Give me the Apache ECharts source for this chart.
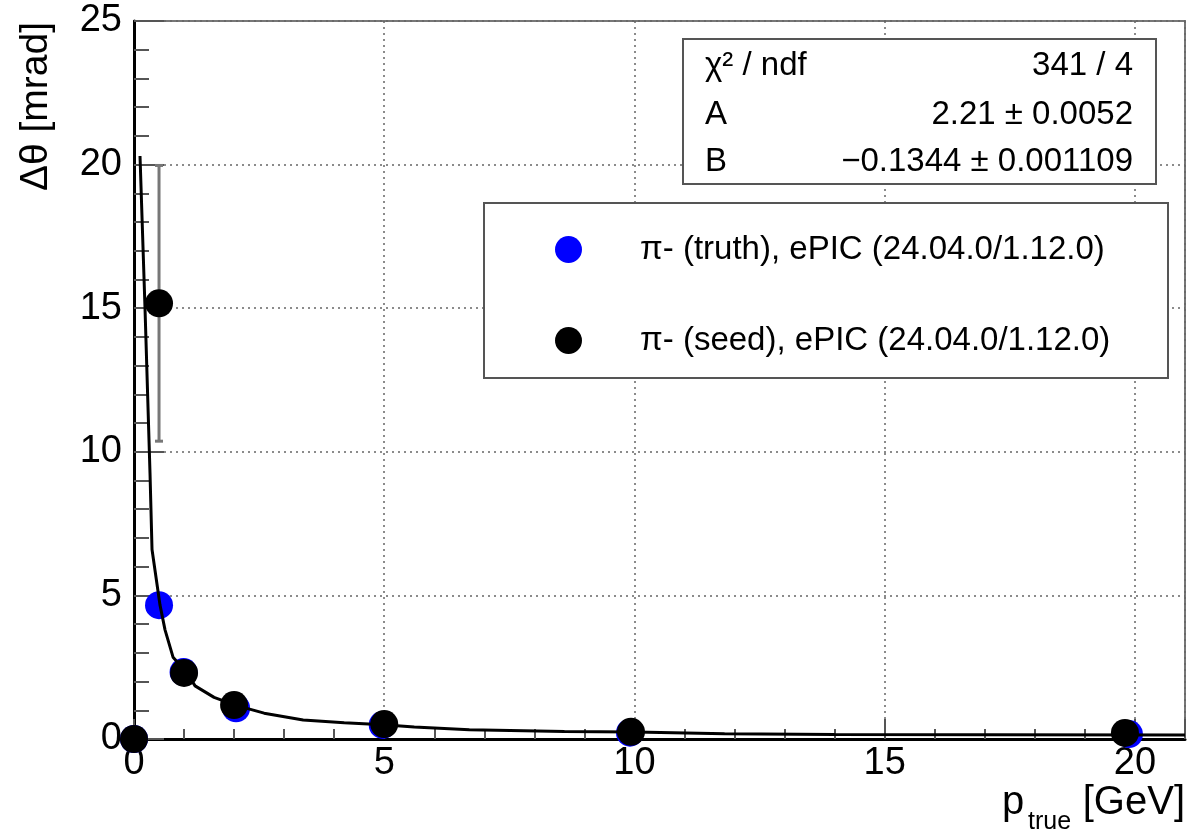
<!DOCTYPE html>
<html>
<head>
<meta charset="utf-8">
<script src="https://cdn.jsdelivr.net/npm/echarts@6/dist/echarts.min.js"></script>
<style>
html,body{margin:0;padding:0;background:#fff;}
#chart{width:1189px;height:831px;}
</style>
</head>
<body>
<div id="chart"></div>
<script>
// ---- data ----
const seedName = 'π- (seed), ePIC (24.04.0/1.12.0)';
const truthName = 'π- (truth), ePIC (24.04.0/1.12.0)';
const seedX = [0, 0.5, 1, 2, 5, 9.93, 19.8];
const seedY = [0, 15.17, 2.3, 1.18, 0.52, 0.25, 0.21];
const seedErr = [0.02, 4.8, 0.06, 0.03, 0.02, 0.01, 0.01];
const truthX = [0, 0.5, 0.99, 2.04, 4.97, 9.91, 19.88];
const truthY = [0, 4.66, 2.33, 1.07, 0.49, 0.22, 0.17];
const fitX = [0.12, 0.22, 0.32, 0.36, 0.52, 0.62, 0.78, 1.06, 1.22, 1.6, 2.02, 2.6, 3.38, 4.2, 4.98, 5.6, 6.7, 8.6, 10, 11.8, 14, 17, 21];
const fitY = [20.3, 15.0, 9.25, 6.6, 4.66, 3.8, 2.85, 2.3, 1.85, 1.45, 1.18, 0.9, 0.66, 0.57, 0.5, 0.42, 0.32, 0.26, 0.24, 0.18, 0.16, 0.15, 0.14];
const statsLabels = ['χ² / ndf', 'A', 'B'];
const statsValues = ['341 / 4', '2.21 ± 0.0052', '−0.1344 ± 0.001109'];
const xTitle = ['p', 'true', '[GeV]'];
const yTitle = 'Δθ [mrad]';

const FONT = "'Liberation Sans', Arial, Helvetica, sans-serif";
const chart = echarts.init(document.getElementById('chart'));

const zip = (a, b) => a.map((v, i) => [v, b[i]]);
const errData = seedX.map((x, i) => [x, seedY[i] - seedErr[i], seedY[i] + seedErr[i]]);

const gridStyle = { color: '#666', width: 1.5, type: [2, 4] };
const tickStyle = { color: '#555', width: 2 };

const statsGraphics = [];
statsLabels.forEach((t, i) => {
  const cy = [66, 115, 162][i];
  statsGraphics.push({ type: 'text', x: 705, y: cy, z: 6,
    style: { text: t, font: '33px ' + FONT, fill: '#000', textAlign: 'left', textVerticalAlign: 'middle' } });
  statsGraphics.push({ type: 'text', x: 1133, y: cy, z: 6,
    style: { text: statsValues[i], font: '33px ' + FONT, fill: '#000', textAlign: 'right', textVerticalAlign: 'middle' } });
});

chart.setOption({
  animation: false,
  backgroundColor: '#fff',
  grid: { left: 134, right: 4, top: 21, bottom: 92, show: true, borderColor: '#777', borderWidth: 2, backgroundColor: 'transparent' },
  xAxis: [
    { type: 'value', min: 0, max: 21, interval: 1, position: 'bottom',
      axisLine: { show: true, onZero: false, lineStyle: { color: '#000', width: 3 } },
      axisTick: { show: true, inside: true, length: 10, lineStyle: tickStyle },
      axisLabel: { show: true, margin: 6, fontSize: 38, fontFamily: FONT, color: '#000',
        showMaxLabel: false, formatter: v => (Math.abs(v % 5) < 1e-9 ? String(v) : '') },
      splitLine: { show: false } },
    { type: 'value', min: 0, max: 21, interval: 5, position: 'bottom',
      axisLine: { show: false },
      axisTick: { show: true, inside: true, length: 20, lineStyle: tickStyle },
      axisLabel: { show: false },
      splitLine: { show: true, lineStyle: gridStyle } }
  ],
  yAxis: {
    type: 'value', min: 0, max: 25, interval: 5,
    axisLine: { show: true, onZero: false, lineStyle: { color: '#000', width: 3 } },
    axisTick: { show: true, inside: true, length: 30, lineStyle: tickStyle },
    minorTick: { show: true, splitNumber: 5, length: 15, lineStyle: tickStyle },
    axisLabel: { margin: 12, fontSize: 38, fontFamily: FONT, color: '#000' },
    splitLine: { show: true, lineStyle: gridStyle }
  },
  legend: {
    orient: 'vertical', left: 555, top: 233, padding: 0, itemGap: 58,
    itemWidth: 27, itemHeight: 27, selectedMode: false, z: 6,
    textStyle: { fontSize: 33, lineHeight: 31, fontFamily: FONT, color: '#000', padding: [0, 0, 0, 53] },
    data: [{ name: truthName, icon: 'circle' }, { name: seedName, icon: 'circle' }]
  },
  graphic: [
    { type: 'rect', z: 3, shape: { x: 683, y: 39, width: 473, height: 145 },
      style: { fill: '#fff', stroke: '#555', lineWidth: 2 } },
    { type: 'rect', z: 3, shape: { x: 484, y: 203, width: 684, height: 175 },
      style: { fill: '#fff', stroke: '#555', lineWidth: 2 } },
    ...statsGraphics,
    { type: 'text', x: 36, y: 22, rotation: Math.PI / 2, z: 6,
      style: { text: yTitle, font: '39px ' + FONT, fill: '#000', textAlign: 'right', textVerticalAlign: 'middle' } },
    { type: 'text', x: 1002, y: 803, z: 6,
      style: { text: xTitle[0], font: '40px ' + FONT, fill: '#000', textAlign: 'left', textVerticalAlign: 'middle' } },
    { type: 'text', x: 1028, y: 822, z: 6,
      style: { text: xTitle[1], font: '25px ' + FONT, fill: '#000', textAlign: 'left', textVerticalAlign: 'middle' } },
    { type: 'text', x: 1185, y: 803, z: 6,
      style: { text: xTitle[2], font: '40px ' + FONT, fill: '#000', textAlign: 'right', textVerticalAlign: 'middle' } }
  ],
  series: [
    { name: 'errors', type: 'custom', xAxisIndex: 0, yAxisIndex: 0, z: 1,
      renderItem: function (params, api) {
        const x = api.value(0), lo = api.value(1), hi = api.value(2);
        const t = api.coord([x, hi]), b = api.coord([x, lo]);
        const st = { stroke: '#777', lineWidth: 3 };
        return { type: 'group', children: [
          { type: 'line', shape: { x1: t[0], y1: t[1], x2: b[0], y2: b[1] }, style: st },
          { type: 'line', shape: { x1: t[0] - 4, y1: t[1], x2: t[0] + 4, y2: t[1] }, style: st },
          { type: 'line', shape: { x1: b[0] - 4, y1: b[1], x2: b[0] + 4, y2: b[1] }, style: st }
        ] };
      },
      data: errData, silent: true },
    { name: truthName, type: 'scatter', xAxisIndex: 0, symbol: 'circle', symbolSize: 28, z: 2,
      itemStyle: { color: '#0000ff', opacity: 1 }, data: zip(truthX, truthY) },
    { name: 'fit', type: 'line', xAxisIndex: 0, showSymbol: false, symbol: 'none', z: 3, smooth: false,
      lineStyle: { color: '#000', width: 3 }, data: zip(fitX, fitY), silent: true },
    { name: seedName, type: 'scatter', xAxisIndex: 0, symbol: 'circle', symbolSize: 28, z: 4,
      itemStyle: { color: '#000', opacity: 1 }, data: zip(seedX, seedY) }
  ]
});
</script>
</body>
</html>
